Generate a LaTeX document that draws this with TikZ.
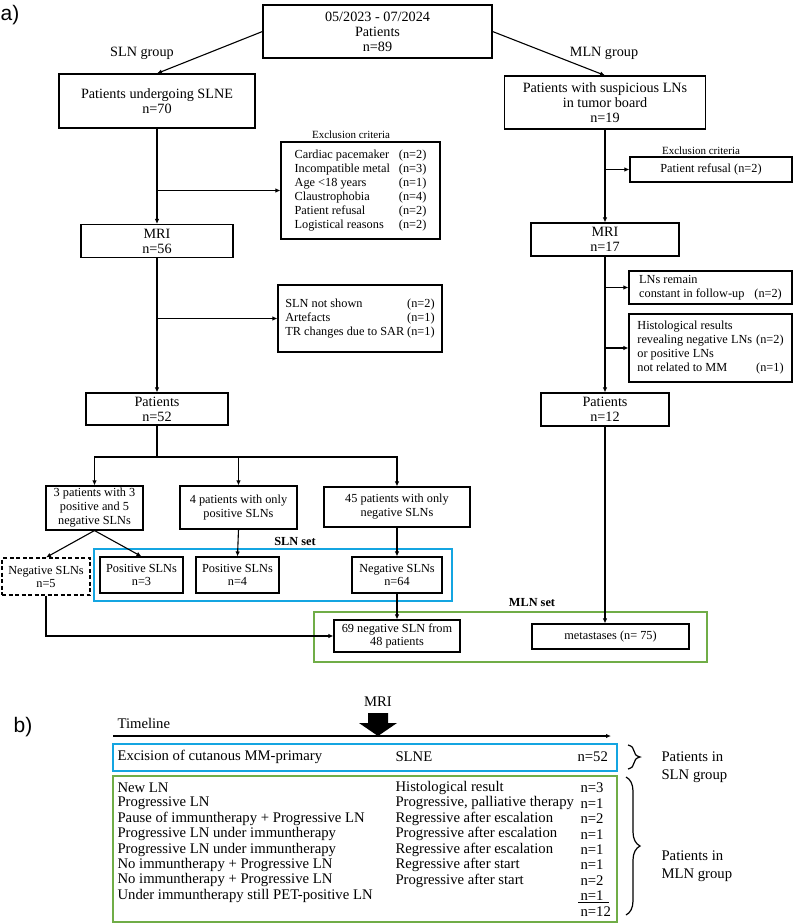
\documentclass[tikz,border=0pt]{standalone}
\usepackage{fontspec}
\setmainfont{Liberation Serif}
\newfontfamily\panelsans{Liberation Sans}
\usepackage{tikz}
\usetikzlibrary{arrows.meta}
\usetikzlibrary{decorations.pathreplacing}
\usetikzlibrary{positioning}
\definecolor{slnblue}{RGB}{20,165,225}
\definecolor{mlngreen}{RGB}{112,173,71}
\newcommand{\panelfont}{\panelsans\fontsize{21}{24}\selectfont}
\newcommand{\boxfont}{\fontsize{14.2}{15}\selectfont}
\newcommand{\smallfont}{\fontsize{12.3}{14}\selectfont}
\newcommand{\setfont}{\fontsize{12.3}{13}\selectfont}
\newcommand{\notefont}{\fontsize{11}{12}\selectfont}
\newcommand{\rowfont}{\fontsize{14.7}{15.4}\selectfont}
\tikzset{
  box/.style={draw, align=center, inner sep=0pt, font=\boxfont},
  smallbox/.style={draw, align=center, inner sep=0pt, font=\smallfont},
  listbox/.style={draw, inner sep=0pt, font=\smallfont},
  setbox/.style={draw, align=center, inner sep=0pt, font=\setfont},
  setlabel/.style={font=\setfont\bfseries},
  setframe/.style={line width=2.3pt},
  rowtext/.style={anchor=west, inner sep=1pt, font=\rowfont},
}

\begin{document}
\begin{tikzpicture}[x=1pt, y=-1pt, line width=1.1pt, >={Latex[length=5pt,width=4.5pt]}]
    \useasboundingbox (0,0) rectangle (794,924);

    \node[font=\panelfont] (pa) at (10,15) {a)};

    \node[box, minimum width=229pt, minimum height=53pt] (total) at (377.5,31.5) {05/2023 - 07/2024\\Patients\\n=89};
    \node[font=\boxfont] (slngroup) at (142,53) {SLN\ group};
    \node[font=\boxfont] (mlngroup) at (604,53) {MLN\ group};

    \node[box, minimum width=196pt, minimum height=54pt] (slne) at (157,101) {Patients undergoing SLNE\\n=70};
    \node[box, minimum width=201pt, minimum height=53pt] (suspect) at (605,102.5) {Patients with suspicious LNs\\in tumor board\\n=19};

    \draw [->] (total.west) -- (slne.north);
    \draw [->] (total.east) -- (suspect.north);

    \node[font=\notefont] (exclhead1) at (351,135) {Exclusion criteria};
    \node[listbox, minimum width=159pt, minimum height=97pt] (excl1) at (360.5,190.5) {%
      \begin{tabular}{@{}l@{\hspace{9pt}}l@{}}
        Cardiac pacemaker & (n=2)\\
        Incompatible metal & (n=3)\\
        Age <18 years & (n=1)\\
        Claustrophobia & (n=4)\\
        Patient refusal & (n=2)\\
        Logistical reasons & (n=2)
      \end{tabular}};

    \node[box, minimum width=152pt, minimum height=33pt] (mri1) at (157,241) {MRI\\n=56};

    \node[listbox, minimum width=164pt, minimum height=67pt] (excl2) at (360,318.5) {%
      \begin{tabular}{@{}l@{\hspace{3pt}}l@{}}
        SLN not shown & (n=2)\\
        Artefacts & (n=1)\\
        TR changes due to SAR & (n=1)
      \end{tabular}};

    \node[box, minimum width=142pt, minimum height=32pt] (pat52) at (157,409) {Patients\\n=52};

    \draw [->] (slne.south) -- (mri1.north);
    \draw [->] (slne.south |- excl1.west) -- (excl1.west);
    \draw [->] (mri1.south) -- (pat52.north);
    \draw [->] (mri1.south |- excl2.west) -- (excl2.west);

    \node[smallbox, minimum width=97pt, minimum height=44pt] (mixed) at (94.5,508) {3 patients with 3\\positive and 5\\negative SLNs};
    \node[smallbox, minimum width=117pt, minimum height=43pt] (onlypos) at (238.5,507.5) {4 patients with only\\positive SLNs};
    \node[smallbox, minimum width=146pt, minimum height=40pt] (onlyneg) at (397,507) {45 patients with only\\negative SLNs};

    \coordinate (split) at (157,457);
    \draw (pat52.south) -- (split);
    \draw [->] (split) -| (mixed.north);
    \draw [->] (split) -| (onlypos.north);
    \draw [->] (split) -| (onlyneg.north);

    \node[setbox, dash pattern=on 4pt off 2.5pt, minimum width=88pt, minimum height=37pt] (neg5) at (46,576.5) {Negative SLNs\\n=5};
    \node[setbox, minimum width=83pt, minimum height=36pt] (pos3) at (141.5,575) {Positive SLNs\\n=3};
    \node[setbox, minimum width=83pt, minimum height=36pt] (pos4) at (237.5,575) {Positive SLNs\\n=4};
    \node[setbox, minimum width=90pt, minimum height=36pt] (neg64) at (397,575) {Negative SLNs\\n=64};

    \draw [slnblue, setframe] (94,549) rectangle (452,601);
    \node[setlabel] (slnset) at (295,541) {SLN set};

    \draw [->] (mixed.south) -- (neg5.north);
    \draw [->] (mixed.south) -- (pos3.north);
    \draw [->] (onlypos.south) -- (pos4.north);
    \draw [->] (onlyneg.south) -- (neg64.north);

    \draw [mlngreen, setframe] (314,612) rectangle (707,662);
    \node[setlabel] (mlnset) at (532,603) {MLN set};

    \node[setbox, fill=white, minimum width=126pt, minimum height=32pt] (neg69) at (397,636) {69 negative SLN from\\48 patients};
    \node[setbox, minimum width=157pt, minimum height=25pt] (meta) at (610.5,636.5) {metastases (n= 75)};

    \draw [->] (neg64.south) -- (neg69.north);
    \draw [->] (neg5.south) |- (neg69.west);

    \node[font=\notefont] (exclhead2) at (701,151) {Exclusion criteria};
    \node[smallbox, minimum width=162pt, minimum height=25pt] (excl3) at (711,169.5) {Patient refusal (n=2)};
    \node[box, minimum width=148pt, minimum height=33pt] (mri2) at (605,239.5) {MRI\\n=17};
    \node[listbox, minimum width=163pt, minimum height=33pt] (constant) at (710.5,287.5) {%
      \begin{tabular}{@{}l@{\hspace{10pt}}l@{}}
        LNs remain & \\
        constant in follow-up & (n=2)
      \end{tabular}};
    \node[listbox, minimum width=163pt, minimum height=68pt] (histo) at (710.5,348) {%
      \begin{tabular}{@{}l@{\hspace{4pt}}r@{}}
        Histological results & \\
        revealing negative LNs & (n=2)\\
        or positive LNs & \\
        not related to MM & (n=1)
      \end{tabular}};
    \node[box, minimum width=128pt, minimum height=33pt] (pat12) at (605,409.5) {Patients\\n=12};

    \draw [->] (suspect.south) -- (mri2.north);
    \draw [->] (suspect.south |- excl3.west) -- (excl3.west);
    \draw [->] (mri2.south) -- (pat12.north);
    \draw [->] (mri2.south |- constant.west) -- (constant.west);
    \draw [->] (mri2.south |- histo.west) -- (histo.west);
    \draw [->] (pat12.south) -- (pat12.south |- meta.north);

    \node[font=\panelfont] (pb) at (23,727) {b)};

    \node[rowtext] (timeline) at (116,723) {Timeline};
    \coordinate (tstart) at (113,736);
    \coordinate (tend) at (611,736);
    \draw [->, line width=1.6pt] (tstart) -- (tend);
    \node[font=\rowfont] (mrilabel) at (378,702) {MRI};
    \fill (368,713) -- (388,713) -- (388,723) -- (397,723) -- (378,736) -- (359,723) -- (368,723) -- cycle;

    \draw [slnblue, setframe] (113,744) rectangle (617,771);
    \node[rowtext] (primary) at (116,757) {Excision of cutanous MM-primary};
    \node[rowtext] (slnestep) at (394,757) {SLNE};
    \node[rowtext] (count0) at (576,757) {n=52};

    \draw [mlngreen, setframe] (113,776) rectangle (617,922);
    \foreach \i/\cause/\result/\num in {
        1/New LN/Histological result/n=3,
        2/Progressive LN/{Progressive, palliative therapy}/n=1,
        3/Pause of immuntherapy + Progressive LN/Regressive after escalation/n=2,
        4/Progressive LN under immuntherapy/Progressive after escalation/n=1,
        5/Progressive LN under immuntherapy/Regressive after escalation/n=1,
        6/No immuntherapy + Progressive LN/Regressive after start/n=1,
        7/No immuntherapy + Progressive LN/Progressive after start/n=2,
        8/Under immuntherapy still PET-positive LN//n=1} {
      \node[rowtext] (cause\i) at (116,772.6+15.4*\i) {\cause};
      \node[rowtext] (result\i) at (394,772.6+15.4*\i) {\result};
      \node[rowtext] (count\i) at (579,772.6+15.4*\i) {\num};
    }
    \draw [line width=0.9pt] ([xshift=-1pt]count8.south west) -- ([xshift=4pt]count8.south east);
    \node[rowtext] (count9) at (579,912) {n=12};

    \draw [decorate, decoration={brace, amplitude=12pt}, line width=1.2pt] (628,745) -- (628,769);
    \draw [decorate, decoration={brace, amplitude=14pt}, line width=1.2pt] (626,777) -- (626,915);
    \node[rowtext, align=left, font=\fontsize{14.7}{18}\selectfont] (slnpatients) at (660,767) {Patients in\\SLN group};
    \node[rowtext, align=left, font=\fontsize{14.7}{18}\selectfont] (mlnpatients) at (660,866) {Patients in\\MLN group};
\end{tikzpicture}
\end{document}
